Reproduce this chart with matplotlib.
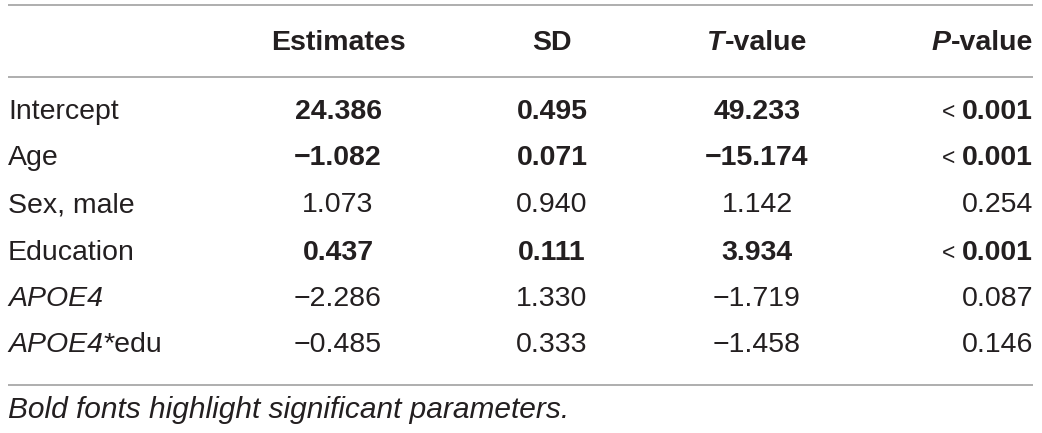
import matplotlib
matplotlib.use("Agg")
from matplotlib import pyplot as plt
from matplotlib.offsetbox import TextArea, HPacker, AnnotationBbox

plt.rcParams['font.family'] = ['Liberation Sans', 'DejaVu Sans']

# table data
rows = ["Intercept", "Age", "Sex, male", "Education", "APOE4", "APOE4*edu"]
estimates = [24.386, -1.082, 1.073, 0.437, -2.286, -0.485]
sd = [0.495, 0.071, 0.940, 0.111, 1.330, 0.333]
tvals = [49.233, -15.174, 1.142, 3.934, -1.719, -1.458]
pvals = ["< 0.001", "< 0.001", "0.254", "< 0.001", "0.087", "0.146"]
significant = [True, True, False, True, False, False]
note = "Bold fonts highlight significant parameters."

ink = '#231f20'
rule = '#a8a8a8'
fs = 20.5

fig = plt.figure(figsize=(10.42, 4.33), dpi=100)
ax = fig.add_axes([0, 0, 1, 1])
ax.set_xlim(0, 1042)
ax.set_ylim(433, 0)
ax.axis('off')

x_lab, x_est, x_sd, x_t, x_p = 8, 338, 552, 757, 1033
y_head = 43
y_rows = [112, 158, 205, 253, 299, 345]


def fmt(v):
    return f"{v:.3f}".replace("-", "\u2212")


def packed(parts, x, y, halign):
    # parts: list of (text, weight, style, size)
    boxes = [TextArea(t, textprops=dict(fontsize=s2, fontweight=w, fontstyle=s, color=ink))
             for t, w, s, s2 in parts]
    pk = HPacker(children=boxes, align='baseline', pad=0, sep=0)
    ab = AnnotationBbox(pk, (x, y), xycoords='data', frameon=False, pad=0,
                        box_alignment=(halign, 0.5))
    ax.add_artist(ab)


# rules
for yy in (5, 77, 385):
    ax.plot([8, 1033], [yy, yy], color=rule, lw=1.3, solid_capstyle='butt')

# header
ax.text(x_est, y_head, "Estimates", ha='center', va='center', fontsize=fs, fontweight='bold', color=ink)
ax.text(x_sd, y_head, "SD", ha='center', va='center', fontsize=fs, fontweight='bold', color=ink)
packed([("T", 'bold', 'italic', fs), ("-value", 'bold', 'normal', fs)], x_t, y_head, 0.5)
packed([("P", 'bold', 'italic', fs), ("-value", 'bold', 'normal', fs)], x_p, y_head, 1.0)

for i, name in enumerate(rows):
    y = y_rows[i]
    w = 'bold' if significant[i] else 'normal'
    if name == "APOE4":
        ax.text(x_lab, y, name, ha='left', va='center', fontsize=fs, fontstyle='italic', color=ink)
    elif name.startswith("APOE4*"):
        packed([("APOE4", 'normal', 'italic', fs), ("*" + name.split("*")[1], 'normal', 'normal', fs)],
               x_lab, y, 0.0)
    else:
        ax.text(x_lab, y, name, ha='left', va='center', fontsize=fs, color=ink)
    ax.text(x_est, y, fmt(estimates[i]), ha='center', va='center', fontsize=fs, fontweight=w, color=ink)
    ax.text(x_sd, y, fmt(sd[i]), ha='center', va='center', fontsize=fs, fontweight=w, color=ink)
    ax.text(x_t, y, fmt(tvals[i]), ha='center', va='center', fontsize=fs, fontweight=w, color=ink)
    p = pvals[i]
    if p.startswith("<"):
        packed([("< ", 'normal', 'normal', fs * 0.8), (p[1:].strip(), w, 'normal', fs)], x_p, y, 1.0)
    else:
        ax.text(x_p, y, p, ha='right', va='center', fontsize=fs, fontweight=w, color=ink)

ax.text(x_lab, 410, note, ha='left', va='center', fontsize=21.5, fontstyle='italic', color=ink)

fig.savefig("out.png", dpi=100, facecolor='white')
